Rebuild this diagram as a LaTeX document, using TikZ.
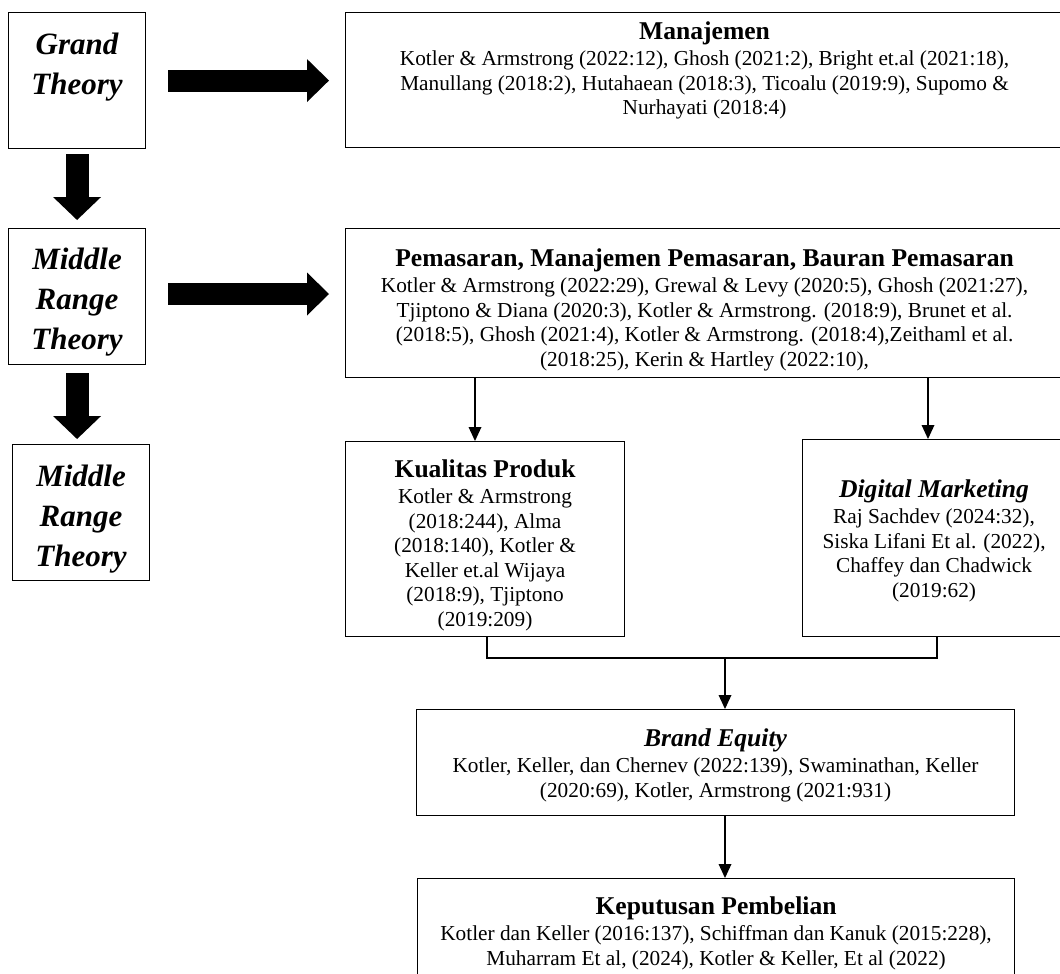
\documentclass[tikz,border=0pt]{standalone}
\usepackage{fontspec}
\setmainfont{Liberation Serif}
\usetikzlibrary{arrows.meta,calc}
\newcommand{\bxt}[3]{\begin{minipage}[c][#2][t]{#1}\centering #3\end{minipage}}
\newcommand{\ttl}[2]{\rule{0pt}{#1}{\fontsize{25.6}{25.6}\selectfont\bfseries #2}\par\vspace{1.5pt}}
\newcommand{\bodytxt}{\fontsize{21.3}{24.5}\selectfont}
\newcommand{\thry}[2]{\fontsize{31}{40}\selectfont\bfseries\itshape\rule{0pt}{#1}#2}
\tikzset{
  box/.style={draw, line width=1.1pt, inner sep=0pt, anchor=north west},
  fatr/.style={line width=22pt, -{Triangle[length=22pt,width=43pt,line width=0pt]}},
  fatd/.style={line width=23pt, -{Triangle[length=23pt,width=48pt,line width=0pt]}},
  conn/.style={line width=2.2pt, -{Triangle[length=14pt,width=13pt,line width=0pt]}},
  plain/.style={line width=2.2pt}
}
\begin{document}
\begin{tikzpicture}[x=1pt,y=-1pt]
\useasboundingbox (0,0) rectangle (1060,974);
% left column
\node[box] (grand) at (8,12) {\bxt{137pt}{136pt}{\thry{42pt}{Grand\\Theory}}};
\node[box] (mrt1) at (8,228) {\bxt{137pt}{136pt}{\thry{41pt}{Middle\\Range\\Theory}}};
\node[box] (mrt2) at (12,444) {\bxt{137pt}{136pt}{\thry{42pt}{Middle\\Range\\Theory}}};
% right column
\node[box] (man) at (345,12) {\bxt{718pt}{135pt}{\ttl{27pt}{Manajemen}\bodytxt
Kotler \& Armstrong (2022:12), Ghosh (2021:2), Bright et.al (2021:18),\\
Manullang (2018:2), Hutahaean (2018:3), Ticoalu (2019:9), Supomo \&\\
Nurhayati (2018:4)}};
\node[box] (pem) at (345,228) {\bxt{718pt}{149pt}{\ttl{38pt}{Pemasaran, Manajemen Pemasaran, Bauran Pemasaran}\bodytxt
Kotler \& Armstrong (2022:29), Grewal \& Levy (2020:5), Ghosh (2021:27),\\
Tjiptono \& Diana (2020:3), Kotler \& Armstrong. (2018:9), Brunet et al.\\
(2018:5), Ghosh (2021:4), Kotler \& Armstrong. (2018:4),Zeithaml et al.\\
(2018:25), Kerin \& Hartley (2022:10),}};
\node[box] (kual) at (345,441) {\bxt{279pt}{195pt}{\ttl{36pt}{Kualitas Produk}\bodytxt
Kotler \& Armstrong\\
(2018:244), Alma\\
(2018:140), Kotler \&\\
Keller et.al Wijaya\\
(2018:9), Tjiptono\\
(2019:209)}};
\node[box] (dig) at (802,439) {\bxt{263pt}{197pt}{\ttl{58pt}{\itshape Digital Marketing}\bodytxt
Raj Sachdev (2024:32),\\
Siska Lifani Et al. (2022),\\
Chaffey dan Chadwick\\
(2019:62)}};
\node[box] (brand) at (416,709) {\bxt{598pt}{106pt}{\ttl{37pt}{\itshape Brand Equity}\bodytxt
Kotler, Keller, dan Chernev (2022:139), Swaminathan, Keller\\
(2020:69), Kotler, Armstrong (2021:931)}};
\node[box] (kep) at (417,878) {\bxt{597pt}{130pt}{\ttl{36pt}{Keputusan Pembelian}\bodytxt
Kotler dan Keller (2016:137), Schiffman dan Kanuk (2015:228),\\
Muharram Et al, (2024), Kotler \& Keller, Et al (2022)}};
% fat arrows
\coordinate (a2) at (0,294);
\draw[fatr, shorten <=22pt, shorten >=16pt] (grand.east) -- (grand.east -| man.west);
\draw[fatr, shorten <=22pt, shorten >=16pt] (a2 -| mrt1.east) -- (a2 -| pem.west);
\draw[fatd, shorten <=5pt, shorten >=8pt] (grand.south) -- (mrt1.north);
\draw[fatd, shorten <=8pt, shorten >=5pt] (mrt1.south) -- (mrt1.south |- mrt2.north);
% thin connectors
\coordinate (kx) at (475,0);
\coordinate (dx) at (928,0);
\coordinate (kb) at (487,0);
\coordinate (db) at (937,0);
\coordinate (mx) at (725,658);
\draw[conn] (kx |- pem.south) -- (kx |- kual.north);
\draw[conn] (dx |- pem.south) -- (dx |- dig.north);
\draw[plain] (kb |- kual.south) -- (kb |- mx) -- (db |- mx) -- (db |- dig.south);
\draw[conn] (mx) -- (mx |- brand.north);
\draw[conn] (mx |- brand.south) -- (mx |- kep.north);
\end{tikzpicture}
\end{document}
